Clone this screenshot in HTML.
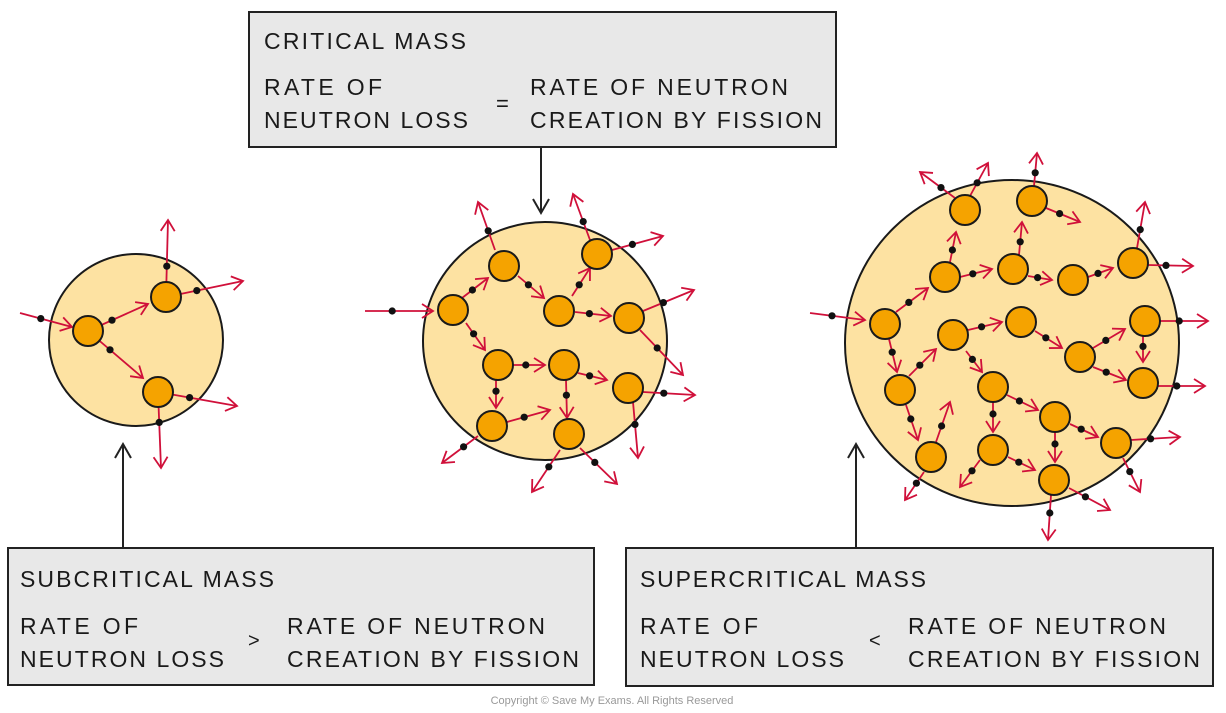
<!DOCTYPE html>
<html><head><meta charset="utf-8"><style>
html,body{margin:0;padding:0;background:#fff;width:1226px;height:713px;overflow:hidden}
svg{display:block}
text{font-family:"Liberation Sans",sans-serif;fill:#1a1a1a}
</style></head><body>
<svg id="s" width="1226" height="713" viewBox="0 0 1226 713" xmlns="http://www.w3.org/2000/svg">
<g font-size="23">
<rect x="249" y="12" width="587" height="135" fill="#e8e8e8" stroke="#222" stroke-width="2"/>
<text x="264" y="49" textLength="202">CRITICAL MASS</text>
<text x="264" y="95" textLength="118">RATE OF</text>
<text x="264" y="128" textLength="204">NEUTRON LOSS</text>
<text x="496" y="111" font-size="22">=</text>
<text x="530" y="95" textLength="258">RATE OF NEUTRON</text>
<text x="530" y="128" textLength="292">CREATION BY FISSION</text>

<rect x="8" y="548" width="586" height="137" fill="#e8e8e8" stroke="#222" stroke-width="2"/>
<text x="20" y="587" textLength="254">SUBCRITICAL MASS</text>
<text x="20" y="634" textLength="118">RATE OF</text>
<text x="20" y="667" textLength="204">NEUTRON LOSS</text>
<text x="248" y="647" font-size="20">&gt;</text>
<text x="287" y="634" textLength="258">RATE OF NEUTRON</text>
<text x="287" y="667" textLength="292">CREATION BY FISSION</text>

<rect x="626" y="548" width="587" height="138" fill="#e8e8e8" stroke="#222" stroke-width="2"/>
<text x="640" y="587" textLength="286">SUPERCRITICAL MASS</text>
<text x="640" y="634" textLength="118">RATE OF</text>
<text x="640" y="667" textLength="204">NEUTRON LOSS</text>
<text x="869" y="647" font-size="20">&lt;</text>
<text x="908" y="634" textLength="258">RATE OF NEUTRON</text>
<text x="908" y="667" textLength="292">CREATION BY FISSION</text>
</g>
<text x="612" y="704" font-size="11" text-anchor="middle" style="fill:#999">Copyright © Save My Exams. All Rights Reserved</text>

<g stroke="#222" stroke-width="2" fill="none">
<line x1="123" y1="548" x2="123" y2="444"/><polyline points="115,458 123,444 131,458"/>
<line x1="541" y1="147" x2="541" y2="213"/><polyline points="533,199 541,213 549,199"/>
<line x1="856" y1="548" x2="856" y2="444"/><polyline points="848,458 856,444 864,458"/>
</g>

<ellipse cx="136" cy="340" rx="87" ry="86" fill="#fde2a2" stroke="#1a1a1a" stroke-width="2"/>
<ellipse cx="545" cy="341" rx="122" ry="119" fill="#fde2a2" stroke="#1a1a1a" stroke-width="2"/>
<ellipse cx="1012" cy="343" rx="167" ry="163" fill="#fde2a2" stroke="#1a1a1a" stroke-width="2"/>
<g id="arr"></g>
<g id="nuc"></g>
</svg>
<script>
var NS="http://www.w3.org/2000/svg";
function el(p,t,a){var e=document.createElementNS(NS,t);for(var k in a)e.setAttribute(k,a[k]);p.appendChild(e);return e;}
var ga=document.getElementById("arr"),gn=document.getElementById("nuc");
var nuclei=[[88,331],[166,297],[158,392],
[453,310],[504,266],[597,254],[559,311],[629,318],[498,365],[564,365],[628,388],[492,426],[569,434],
[965,210],[1032,201],[945,277],[1013,269],[1073,280],[1133,263],[885,324],[953,335],[1021,322],[1145,321],[1080,357],[1143,383],[900,390],[993,387],[1055,417],[931,457],[993,450],[1116,443],[1054,480]];
var arrows=[[20,313,72,327],[88,331,148,304],[88,331,143,378],[166,297,168,220],[166,297,243,281],[158,392,237,406],[158,392,161,468],
[365,311,433,311],[462,298,488,278],[466,323,485,350],[495,250,478,202],[518,276,544,298],[572,296,590,268],[590,240,573,194],[612,250,663,236],[575,312,611,316],[643,311,694,290],[640,330,683,375],[513,365,545,365],[496,380,496,408],[578,373,607,380],[566,380,567,418],[643,392,695,395],[633,402,638,458],[507,422,550,410],[478,436,442,463],[560,450,532,492],[580,448,617,484],
[810,313,865,320],[955,198,920,172],[970,196,988,163],[1034,186,1037,153],[1046,208,1080,222],[950,262,956,232],[960,277,992,269],[1019,255,1022,222],[1028,276,1052,280],[1088,277,1113,268],[1137,248,1145,202],[1148,265,1193,266],[896,312,928,288],[889,339,897,372],[968,330,1002,322],[966,351,982,372],[1035,331,1062,348],[1160,321,1208,321],[1143,336,1143,362],[1093,348,1125,329],[1093,367,1126,380],[1158,386,1205,386],[909,376,936,349],[906,405,918,440],[993,402,993,432],[1007,395,1038,410],[1055,432,1055,462],[1070,424,1098,437],[1131,440,1180,437],[1123,458,1140,492],[980,460,960,487],[1008,457,1035,470],[936,442,950,402],[924,472,905,500],[1051,495,1048,540],[1069,488,1110,510]];
arrows.forEach(function(a){
 var x1=a[0],y1=a[1],x2=a[2],y2=a[3];
 var dx=x2-x1,dy=y2-y1,L=Math.sqrt(dx*dx+dy*dy),ux=dx/L,uy=dy/L;
 el(ga,"line",{x1:x1,y1:y1,x2:x2,y2:y2,stroke:"#d0103a","stroke-width":1.8});
 var h=11,w=7;
 var bx=x2-ux*h,by=y2-uy*h;
 el(ga,"polyline",{points:(bx-uy*w)+","+(by+ux*w)+" "+x2+","+y2+" "+(bx+uy*w)+","+(by-ux*w),fill:"none",stroke:"#d0103a","stroke-width":1.8});
 el(ga,"circle",{cx:x1+dx*0.4,cy:y1+dy*0.4,r:3.6,fill:"#111"});
});
nuclei.forEach(function(n){el(gn,"circle",{cx:n[0],cy:n[1],r:15,fill:"#f5a300",stroke:"#1a1a1a","stroke-width":2});});
</script>
</body></html>
